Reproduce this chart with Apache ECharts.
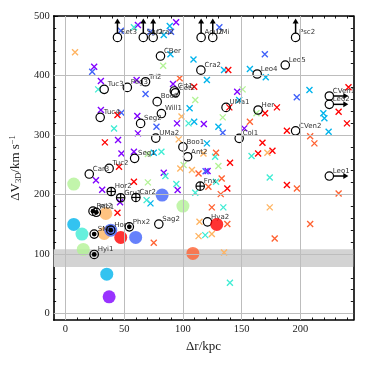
<!DOCTYPE html>
<html><head><meta charset="utf-8">
<script src="https://cdn.jsdelivr.net/npm/echarts@6/dist/echarts.min.js"></script>
<style>html,body{margin:0;padding:0;background:#fff}#c{width:366px;height:366px}</style>
</head><body><div id="c"></div>
<script>
// ---------- axis ticks ----------
const xMajor = [0, 50, 100, 150, 200];
const xMinor = [0,10,20,30,40,50,60,70,80,90,100,110,120,130,140,150,160,170,180,190,200,210,220,230,240];
const yMajor = [0, 100, 200, 300, 400, 500];
const yMinor = [0,20,40,60,80,100,120,140,160,180,200,220,240,260,280,300,320,340,360,380,400,420,440,460,480,500];
const xGrid = [0, 50, 100, 150, 200];
const yGrid = [0, 100, 200, 300, 400];
const band = [78, 108];

// ---------- labelled satellites (open circles) ----------
const satNames = ['CBer','Cra2','Tuc3','Peg3','Tri2','Crt1','Cet2','Boo2','Will1','Tuc4','Seg2','UMa2','Boo1','Ant2','Seg1','Tuc2','Car3','Sag2','Hya2','Leo5','Leo4','UMa1','Her','CVen2','Col1'];
const satR = [80.9,115.3,33,52.7,68.2,92.7,93.6,78.1,81.7,29.6,64,76.9,100,104,58.9,37.2,20.3,79.5,120.9,187.1,163.2,136.7,164,195.9,147.9];
const satV = [432.7,409,376.7,380,389.5,374,371,356,336,329.6,319.5,294.8,280,263.4,260.7,243.8,234.3,150.2,154,417.6,402.5,346.4,342,307,294.3];

// lower limits in velocity (arrow up)
const upNames = ['Ret3','Sgr2','Dra2','Aqu2','UMi','Psc2'];
const upR = [44.3,66.3,74.7,115.5,125.4,195.9];
const upV = [464,464,464,464,464,464];

// lower limits in distance (arrow right)
const rightNames = ['CVen1','Leo2','Leo1'];
const rightR = [224.6,224.6,224.6];
const rightV = [365.5,351.5,231];

// circled plus
const plusNames = ['Hor2','Gru1','Car2','Fnx'];
const plusR = [39,47,60,114.7];
const plusV = [205,194.5,195,214];

// circled dot
const dotNames = ['Ret2','Pic1','SMC','Hor1','Phx2','Hyi1'];
const dotR = [23.5,26.3,24.5,38.6,54.4,24.5];
const dotV = [172,170,133.4,140,145.6,99.2];

// filled circles (colour level 0..1)
const fillR = [7.1,100,15.2,7.1,14.1,33,34.4,47.1,59.8,38.6,82.3,108.5,35.2,37.2,128.8];
const fillV = [217.5,180.5,107.6,149.7,133.4,134.5,168,127.8,127.8,140,199,100.9,66,28,149.7];
const fillLevel = [0.6,0.6,0.6,0.25,0.375,0.75,0.75,1,0.125,0.125,0.125,0.875,0.25,0,1];

// crosses, grouped by colour level
const crossPurple = [[61.7,484.9],[94.2,489.4],[24.5,414.7],[30.2,390.7],[60.6,392.4],[91.6,385.6],[30.2,341.9],[61.2,331.8],[146.2,372.7],[117.8,318.4],[152.2,311.1],[61.7,302.7],[95,319.5],[44.8,291.5],[47.7,269],[58.3,271.8],[121,239.3],[83.7,236.5],[26,224],[31.3,208],[95.5,207.4],[46.5,187]];
const crossBlue = [[47.2,475.3],[72.4,473.6],[89.9,473.6],[131,481],[22.8,406.3],[68.2,368.8],[47.7,337.4],[169.7,435.6],[196.9,363.3],[133.9,303.8],[77.5,313.8],[119.3,239]];
const crossCyan = [[83.7,468],[88.8,483.2],[89.4,435.6],[109,427],[120.4,392.4],[105.7,344.8],[157,410.9],[135,409.2],[170.5,397],[207.7,375.6],[219.5,336.4],[220.4,328],[224,305.4],[147.9,358.7],[130.2,313.8],[109.6,322.3],[120.4,285.9],[75.2,270],[72.4,185]];
const crossAqua = [[58.3,481],[27.9,376.7],[41.4,311],[104.8,319.5],[81.7,271.8],[85.1,230.9],[94.4,217.5],[110.5,202.8],[69.1,190.5],[127.4,263.4],[128.2,221.3],[173.9,228.7],[134.4,178.3],[119,131.7],[140,51.5],[158.4,264.5]];
const crossGreen = [[83.2,416.4],[110.5,358.7],[150.8,376.7],[162.6,336.4],[133.9,329.6],[70.2,268],[100.6,249.4],[130.2,247.7],[70.2,220.3]];
const crossOrange = [[8.2,439],[98.8,331],[96.4,292.6],[117.5,269],[171.9,270],[97.8,243.8],[107.7,241],[173.9,178.3],[114.1,154],[113.3,130],[124.6,133.4],[135,102.6]];
const crossOrangeRed = [[97.2,395.2],[208.3,298],[211.9,285.9],[157,322.3],[128.2,270],[113.3,235.4],[133,227],[121.7,213],[197,210],[232.5,201.8],[132.2,200.6],[124.6,178.3],[75.2,118.7],[137.8,150.2],[208.3,150.2],[178.1,126.1]];
const crossRed = [[138.6,409.2],[109.6,381.1],[44.3,333.5],[139.5,346.4],[180,346.4],[169.9,336.4],[240.9,380.1],[232.5,339],[239.6,319.5],[188.5,307],[167.7,287],[164,269],[176.2,273.5],[140.1,253.3],[137.8,210],[188.5,215.8],[33.6,287.6],[45.6,246.6],[58.3,221.3],[44.3,169.2]];

// ---------- styling ----------
function rainbow(t){
  const r = Math.min(1, Math.abs(2*t-0.5)), g = Math.sin(Math.PI*t), b = Math.cos(Math.PI*t/2);
  const h = v => Math.round(Math.max(0,Math.min(1,v))*255).toString(16).padStart(2,'0');
  return '#'+h(r)+h(g)+h(b);
}
const SERIF = '"Liberation Serif", "DejaVu Serif", serif';
const R = 4.2, LW = 1.2, ARROW = 19;
const LBL_FONT = '7px "DejaVu Sans", sans-serif';

function makeRender(kind, names){
  return function(params, api){
    const p = api.coord([api.value(0), api.value(1)]);
    const cx = p[0], cy = p[1];
    const ch = [];
    if (kind === 'up') {
      const tip = cy - ARROW;
      ch.push({type:'line', shape:{x1:cx,y1:cy-R,x2:cx,y2:tip+4}, style:{stroke:'#000',lineWidth:1.5}});
      ch.push({type:'polygon', shape:{points:[[cx-3,tip+5],[cx+3,tip+5],[cx,tip]]}, style:{fill:'#000'}});
    }
    if (kind === 'right') {
      const tip = cx + ARROW;
      ch.push({type:'line', shape:{x1:cx+R,y1:cy,x2:tip-4,y2:cy}, style:{stroke:'#000',lineWidth:1.5}});
      ch.push({type:'polygon', shape:{points:[[tip-5,cy-3],[tip-5,cy+3],[tip,cy]]}, style:{fill:'#000'}});
    }
    ch.push({type:'circle', shape:{cx:cx,cy:cy,r:R}, style:{fill:'none',stroke:'#000',lineWidth:LW}});
    if (kind === 'plus') {
      ch.push({type:'line', shape:{x1:cx-R,y1:cy,x2:cx+R,y2:cy}, style:{stroke:'#000',lineWidth:LW}});
      ch.push({type:'line', shape:{x1:cx,y1:cy-R,x2:cx,y2:cy+R}, style:{stroke:'#000',lineWidth:LW}});
    }
    if (kind === 'dot') {
      ch.push({type:'circle', shape:{cx:cx,cy:cy,r:2.4}, style:{fill:'#000'}});
    }
    const name = names[params.dataIndex];
    if (name) ch.push({type:'text', x:cx+3.5, y:cy-5, style:{text:name, fill:'#333', font:LBL_FONT, align:'left', verticalAlign:'middle'}});
    return {type:'group', children:ch};
  };
}
function pairs(a,b){ return a.map((v,i)=>[v,b[i]]); }

const crossPath = 'path://M0,0L10,10M10,0L0,10';
function crossSeries(data, t){
  return {type:'scatter', data:data, symbol:crossPath, symbolSize:6, z:2, silent:true,
    itemStyle:{color:'none', borderColor:rainbow(t), borderWidth:1.35, opacity:1}};
}

const axisCommon = {type:'value', splitLine:{show:false}};
function xAx(pos, ticks, len, showLine, showLabel){
  return Object.assign({}, axisCommon, {min:-10, max:245, position:pos,
    axisLine:{show:showLine, onZero:false, lineStyle:{color:'#000', width:1.6}},
    axisTick:{show:true, inside:true, length:len, customValues:ticks, lineStyle:{color:'#000', width:0.9}},
    axisLabel:{show:showLabel, customValues:ticks, fontFamily:SERIF, fontSize:10.5, color:'#222', margin:4}});
}
function yAx(pos, ticks, len, showLine, showLabel){
  return Object.assign({}, axisCommon, {min:-11, max:500, position:pos,
    axisLine:{show:showLine, onZero:false, lineStyle:{color:'#000', width:1.6}},
    axisTick:{show:true, inside:true, length:len, customValues:ticks, lineStyle:{color:'#000', width:0.9}},
    axisLabel:{show:showLabel, customValues:ticks, fontFamily:SERIF, fontSize:10.5, color:'#222', margin:4}});
}
const xa0 = xAx('bottom', xMajor, 4.5, true, true);
xa0.name = 'Δr/kpc'; xa0.nameLocation = 'middle'; xa0.nameGap = 15;
xa0.nameTextStyle = {fontFamily:SERIF, fontSize:13, color:'#222', verticalAlign:'top'};
const ya0 = yAx('left', yMajor, 4.5, true, true);
ya0.name = '{a|ΔV}{s|3D}{a|/km s}{p|−1}'; ya0.nameLocation = 'middle'; ya0.nameGap = 27; ya0.nameRotate = 90;
ya0.nameTextStyle = {rich:{
  a:{fontFamily:SERIF, fontSize:13, color:'#222'},
  s:{fontFamily:SERIF, fontSize:8.5, color:'#222', padding:[6,0,0,0]},
  p:{fontFamily:SERIF, fontSize:8.5, color:'#222', padding:[0,0,6,0]}}};

const option = {
  animation:false,
  backgroundColor:'#fff',
  grid:{left:52.7, right:12.7, top:16, bottom:46, containLabel:false},
  xAxis:[xa0, xAx('bottom', xMinor, 2.5, false, false), xAx('top', xMajor, 4.5, true, false), xAx('top', xMinor, 2.5, false, false)],
  yAxis:[ya0, yAx('left', yMinor, 2.5, false, false), yAx('right', yMajor, 4.5, true, false), yAx('right', yMinor, 2.5, false, false)],
  series:[
    {type:'scatter', data:[], z:0, silent:true,
      markArea:{silent:true, itemStyle:{color:'#d3d3d3'}, data:[[{yAxis:band[0]},{yAxis:band[1]}]]},
      markLine:{silent:true, symbol:'none', label:{show:false}, animation:false,
        lineStyle:{color:'#bdbdbd', width:1, type:'solid'},
        data: xGrid.map(v=>({xAxis:v})).concat(yGrid.map(v=>({yAxis:v})))}},
    crossSeries(crossPurple, 0), crossSeries(crossBlue, 0.125), crossSeries(crossCyan, 0.25),
    crossSeries(crossAqua, 0.375), crossSeries(crossGreen, 0.6), crossSeries(crossOrange, 0.75),
    crossSeries(crossOrangeRed, 0.875), crossSeries(crossRed, 1),
    {type:'custom', z:3, silent:true, clip:false, data:pairs(satR,satV), renderItem:makeRender('open', satNames)},
    {type:'custom', z:3, silent:true, clip:false, data:pairs(upR,upV), renderItem:makeRender('up', upNames)},
    {type:'custom', z:3, silent:true, clip:false, data:pairs(rightR,rightV), renderItem:makeRender('right', rightNames)},
    {type:'scatter', z:4, silent:true, symbol:'circle', symbolSize:13,
      data: fillR.map((r,i)=>({value:[r,fillV[i]], itemStyle:{color:rainbow(fillLevel[i])}}))},
    {type:'custom', z:5, silent:true, clip:false, data:pairs(plusR,plusV), renderItem:makeRender('plus', plusNames)},
    {type:'custom', z:5, silent:true, clip:false, data:pairs(dotR,dotV), renderItem:makeRender('dot', dotNames)}
  ]
};
const chart = echarts.init(document.getElementById('c'), null, {renderer:'canvas'});
chart.setOption(option);
</script>
</body></html>
